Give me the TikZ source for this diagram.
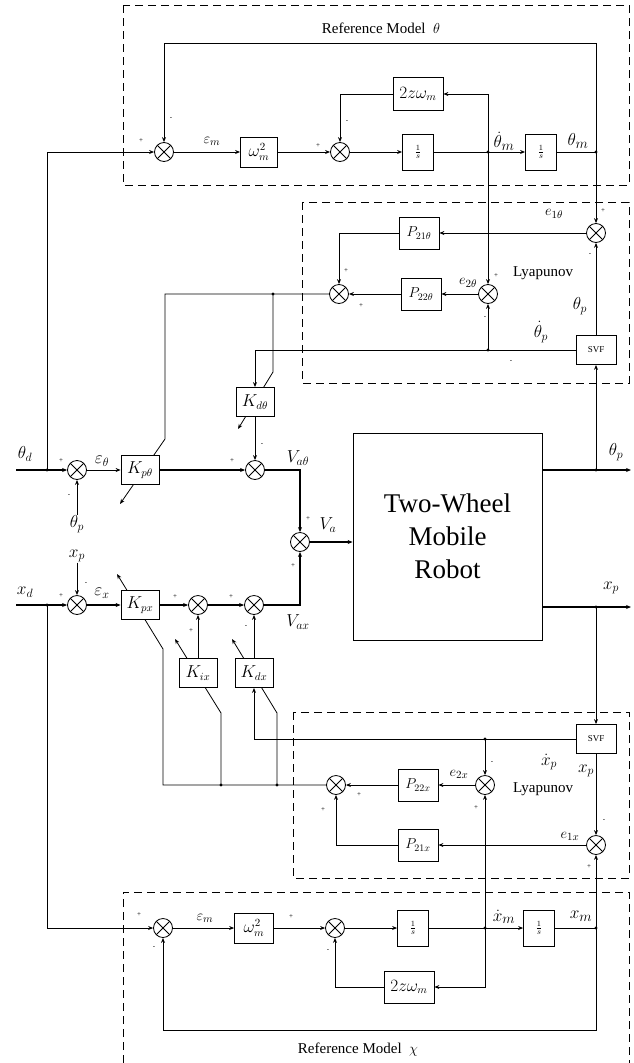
\documentclass[tikz,border=0pt]{standalone}
\usepackage{fontspec}
\setmainfont{Liberation Serif}
\usepackage{amsmath}
\usetikzlibrary{arrows.meta}
\tikzset{
  % thin wiring by default, small sharp tips
  every picture/.append style = {line width=0.8pt, >={Stealth[length=5pt, width=4pt]}},
  sig/.style     = {line width=1.5pt},
  dbox/.style    = {dash pattern=on 8pt off 5pt, line width=0.9pt},
  sumnode/.style = {circle, draw, fill=white, minimum size=19pt, inner sep=0pt,
                    path picture={\draw (path picture bounding box.north west) -- (path picture bounding box.south east)
                                       (path picture bounding box.north east) -- (path picture bounding box.south west);}},
  blk/.style     = {draw, fill=white, inner sep=1pt, minimum width=38pt, minimum height=29pt,
                    font=\fontsize{16}{18}\selectfont},
  pblk/.style    = {blk, minimum width=40pt, minimum height=32pt, font=\fontsize{14.5}{16}\selectfont},
  intblk/.style  = {blk, minimum width=31pt, minimum height=36pt, font=\fontsize{11}{13}\selectfont},
  svfblk/.style  = {blk, minimum width=40pt, minimum height=29pt, font=\fontsize{9}{11}\selectfont},
}

\begin{document}
\begin{tikzpicture}[x=1pt, y=-1pt,
    pm/.style={font=\fontsize{7}{8}\selectfont, inner sep=0pt},
    lbl/.style={font=\fontsize{15}{17}\selectfont, inner sep=0pt},
    mlbl/.style={font=\fontsize{17}{19}\selectfont, inner sep=0pt},
    blbl/.style={font=\fontsize{19}{21}\selectfont, inner sep=0pt},
    ttl/.style={font=\fontsize{15}{17}\selectfont, inner sep=0pt}]
  \useasboundingbox (0,0) rectangle (633,1063);

  % dashed groups
  \draw[dbox] (123,5) rectangle (629,185);
  \draw[dbox] (302,202) rectangle (629,383);
  \draw[dbox] (293,712) rectangle (629,878);
  \draw[dbox] (123,1063) -- (123,892) -- (629,892) -- (629,1063);

  % reference model theta
  \node[sumnode] (rsum1) at (164,152) {};
  \node[blk, minimum width=37pt, minimum height=30pt] (rw2) at (259,152) {$\omega_m^2$};
  \node[sumnode] (rsum2) at (340,152) {};
  \node[intblk] (rint1) at (418,152) {$\frac{1}{s}$};
  \coordinate (rjv) at (488,152);
  \node[intblk] (rint2) at (541,152) {$\frac{1}{s}$};
  \coordinate (rjp) at (596,152);
  \node[blk, minimum width=50pt, minimum height=33pt] (rdamp) at (418,94) {$2z\omega_m$};
  \coordinate (rtop) at (164,43);

  % lyapunov theta
  \node[sumnode] (lsum1) at (596,233) {};
  \node[pblk] (lp21) at (419,233) {$P_{21\theta}$};
  \node[sumnode] (lsum3) at (339,294) {};
  \node[pblk] (lp22) at (421,294) {$P_{22\theta}$};
  \node[sumnode] (lsum2) at (488,294) {};
  \node[svfblk] (lsvf) at (596,350) {SVF};
  \coordinate (ljd) at (488,350);
  \coordinate (lja) at (273,294);

  % lyapunov x
  \node[svfblk] (msvf) at (596,739) {SVF};
  \coordinate (mjd) at (485,739);
  \node[sumnode] (msum2) at (485,785) {};
  \node[pblk] (mp22) at (418,785) {$P_{22x}$};
  \node[sumnode] (msum3) at (336,785) {};
  \node[pblk] (mp21) at (418,845) {$P_{21x}$};
  \node[sumnode] (msum1) at (596,845) {};
  \coordinate (mja1) at (221,785);
  \coordinate (mja2) at (277,785);

  % adaptation arrows, drawn before the gains so the boxes cover them
  \draw[->] (lsum3.west) -| (165,439) -- (120,504);
  \draw[->] (lja) -- (273,372) -- (238,429);
  \draw[->] (msum3.west) -| (163,649) -- (117,574);
  \draw[->] (mja1) -- (221,713) -- (175,639);
  \draw[->] (mja2) -- (277,713) -- (232,639);

  % theta loop
  \coordinate (thdin) at (16,470);
  \coordinate (jthd) at (47,470);
  \node[sumnode] (tsum) at (77,470) {};
  \node[blk] (kpt) at (140,470) {$K_{p\theta}$};
  \node[blk] (kdt) at (255,402) {$K_{d\theta}$};
  \node[sumnode] (tva) at (255,470) {};
  \node[sumnode] (vasum) at (300,542) {};
  \node[draw, fill=white, minimum width=189pt, minimum height=207pt, align=center,
        font=\fontsize{27}{33}\selectfont] (robot) at (447.5,536.5) {Two-Wheel\\Mobile\\Robot};
  \coordinate (jthp) at (596,470);
  \coordinate (thpout) at (631,470);

  % x loop
  \coordinate (xdin) at (16,605);
  \coordinate (jxd) at (47,605);
  \node[sumnode] (xsum) at (77,605) {};
  \node[blk] (kpx) at (140,605) {$K_{px}$};
  \node[sumnode] (xsum2) at (198,605) {};
  \node[sumnode] (xva) at (254,605) {};
  \node[blk] (kix) at (198,673) {$K_{ix}$};
  \node[blk] (kdx) at (254,673) {$K_{dx}$};
  \coordinate (jxp) at (596,607);
  \coordinate (xpout) at (631,607);

  % reference model x
  \node[sumnode] (bsum1) at (163,928) {};
  \node[blk, minimum width=39pt, minimum height=30pt] (bw2) at (254,928) {$\omega_m^2$};
  \node[sumnode] (bsum2) at (335,928) {};
  \node[intblk] (bint1) at (413,928) {$\frac{1}{s}$};
  \coordinate (bjv) at (485,928);
  \node[intblk] (bint2) at (539,928) {$\frac{1}{s}$};
  \coordinate (bjp) at (596,928);
  \node[blk, minimum width=50pt, minimum height=32pt] (bdamp) at (409,987) {$2z\omega_m$};
  \coordinate (bbot) at (163,1030);

  % wiring, reference theta
  \draw[->] (jthd) |- (rsum1.west);
  \draw[->] (rsum1) -- (rw2);
  \draw[->] (rw2) -- (rsum2);
  \draw[->] (rsum2) -- (rint1);
  \draw (rint1) -- (rjv);
  \draw[->] (rjv) -- (rint2);
  \draw (rint2) -- (rjp);
  \draw[->] (rjp) |- (rtop) -- (rsum1.north);
  \draw[->] (rjv) |- (rdamp.east);
  \draw[->] (rdamp.west) -| (rsum2.north);
  \draw[->] (rjp) -- (lsum1.north);
  \draw[->] (rjv) -- (lsum2.north);

  % wiring, lyapunov theta
  \draw[->] (lsum1) -- (lp21);
  \draw[->] (lp21.west) -| (lsum3.north);
  \draw[->] (lsum2) -- (lp22);
  \draw[->] (lp22) -- (lsum3);
  \draw[->] (lsvf.north) -- (lsum1.south);
  \draw (lsvf.west) -- (ljd);
  \draw[->] (ljd) -- (lsum2.south);
  \draw[->] (ljd) -| (kdt.north);

  % wiring, theta loop
  \draw[sig,->] (thdin) -- (tsum.west);
  \draw[->] (tsum) -- (kpt);
  \draw[sig,->] (kpt) -- (tva);
  \draw[->] (kdt) -- (tva);
  \draw[sig,->] (tva.east) -| (vasum.north);
  \draw[sig,->] (vasum) -- (vasum -| robot.west);
  \draw[sig,->] (robot.east |- jthp) -- (thpout);
  \draw[->] (jthp) -- (lsvf.south);

  % wiring, x loop
  \draw[sig,->] (xdin) -- (xsum.west);
  \draw[sig,->] (xsum) -- (kpx);
  \draw[sig,->] (kpx) -- (xsum2);
  \draw[sig,->] (xsum2) -- (xva);
  \draw[sig,->] (xva.east) -| (vasum.south);
  \draw[->] (kix) -- (xsum2);
  \draw[->] (kdx) -- (xva);
  \draw[sig,->] (robot.east |- jxp) -- (xpout);
  \draw[->] (jxp) -- (msvf.north);

  % wiring, lyapunov x
  \draw (msvf.west) -- (mjd);
  \draw[->] (mjd) -| (kdx.south);
  \draw[->] (mjd) -- (msum2.north);
  \draw[->] (msvf.south) -- (msum1.north);
  \draw[->] (msum1) -- (mp21);
  \draw[->] (mp21.west) -| (msum3.south);
  \draw[->] (msum2) -- (mp22);
  \draw[->] (mp22) -- (msum3);

  % wiring, reference x
  \draw[->] (jxd) |- (bsum1.west);
  \draw[->] (bsum1) -- (bw2);
  \draw[->] (bw2) -- (bsum2);
  \draw[->] (bsum2) -- (bint1);
  \draw (bint1) -- (bjv);
  \draw[->] (bjv) -- (bint2);
  \draw (bint2) -- (bjp);
  \draw[->] (bjv) |- (bdamp.east);
  \draw[->] (bdamp.west) -| (bsum2.south);
  \draw[->] (bjp) |- (bbot) -- (bsum1.south);
  \draw[->] (bjv) -- (msum2.south);
  \draw[->] (bjp) -- (msum1.south);

  % branch points
  \foreach \j in {rjv,rjp,ljd,lja,jthd,jthp,jxd,jxp,mjd,mja1,mja2,bjv,bjp}
    \fill (\j) circle (1.7pt);

  % labels, reference theta
  \node[ttl] (ttlt) at (381,28) {Reference Model\enspace$\theta$};
  \node[pm] (pl1) at (141,141) {+};
  \node[pm] (mi1) at (171,119) {-};
  \node[lbl] (lemt) at (212,141) {$\varepsilon_m$};
  \node[pm] (pl2) at (318,146) {+};
  \node[pm] (mi2) at (347,122) {-};
  \node[blbl] (lthdm) at (504,141) {$\dot{\theta}_m$};
  \node[blbl] (lthm) at (578,141) {$\theta_m$};

  % labels, lyapunov theta
  \node[pm] (pl3) at (603,211) {+};
  \node[pm] (mi3) at (590,255) {-};
  \node[lbl] (le1t) at (554,214) {$e_{1\theta}$};
  \node[pm] (pl4) at (346,271) {+};
  \node[pm] (pl5) at (361,306) {+};
  \node[lbl] (le2t) at (468,283) {$e_{2\theta}$};
  \node[pm] (pl6) at (496,276) {+};
  \node[pm] (mi4) at (485,318) {-};
  \node[ttl] (lyt) at (543,273) {Lyapunov};
  \node[mlbl] (lthp) at (580,306) {$\theta_p$};
  \node[mlbl] (lthdp) at (541,332) {$\dot{\theta}_p$};
  \node[pm] (mi5) at (511,362) {-};

  % labels, theta loop
  \node[mlbl] (lthd) at (25,454) {$\theta_d$};
  \node[pm] (pl7) at (61,461) {+};
  \node[pm] (mi6) at (69,496) {-};
  \node[mlbl] (tlbp) at (77,524) {$\theta_p$};
  \draw[->] (tlbp.north) -- (tsum.south);
  \node[mlbl] (leth) at (102,461) {$\varepsilon_\theta$};
  \node[pm] (pl8) at (232,461) {+};
  \node[pm] (mi7) at (262,445) {-};
  \node[mlbl] (lvat) at (298,458) {$V_{a\theta}$};
  \node[pm] (pl9) at (308,519) {+};
  \node[mlbl] (lva) at (328,525) {$V_a$};
  \node[mlbl] (lthpo) at (616,452) {$\theta_p$};
  \node[mlbl] (lxpo) at (611,588) {$x_p$};

  % labels, x loop
  \node[mlbl] (xlbp) at (77,556) {$x_p$};
  \draw[->] (xlbp.south) -- (xsum.north);
  \node[pm] (mi8) at (86,584) {-};
  \node[pm] (pl10) at (61,596) {+};
  \node[mlbl] (lxd) at (25,592) {$x_d$};
  \node[mlbl] (lex) at (102,593) {$\varepsilon_x$};
  \node[pm] (pl11) at (175,597) {+};
  \node[pm] (pl12) at (231,597) {+};
  \node[pm] (pl13) at (293,566) {+};
  \node[mlbl] (lvax) at (298,622) {$V_{ax}$};
  \node[pm] (pl14) at (191,631) {+};
  \node[pm] (mi9) at (246,627) {-};

  % labels, lyapunov x
  \node[pm] (mi10) at (492,763) {-};
  \node[mlbl] (lxdp) at (549,762) {$\dot{x}_p$};
  \node[mlbl] (lxpl) at (586,771) {$x_p$};
  \node[pm] (mi11) at (604,821) {-};
  \node[pm] (pl15) at (589,867) {+};
  \node[lbl] (le1x) at (570,836) {$e_{1x}$};
  \node[pm] (pl16) at (476,808) {+};
  \node[lbl] (le2x) at (459,774) {$e_{2x}$};
  \node[ttl] (lyx) at (543,789) {Lyapunov};
  \node[pm] (pl17) at (323,810) {+};
  \node[pm] (pl18) at (359,795) {+};

  % labels, reference x
  \node[pm] (pl19) at (139,915) {+};
  \node[pm] (mi12) at (154,948) {-};
  \node[lbl] (lemx) at (205,918) {$\varepsilon_m$};
  \node[pm] (pl20) at (291,917) {+};
  \node[pm] (mi13) at (328,951) {-};
  \node[blbl] (lxdm) at (504,917) {$\dot{x}_m$};
  \node[blbl] (lxm) at (581,916) {$x_m$};
  \node[ttl] (ttlx) at (358,1050) {Reference Model\enspace$\chi$};
\end{tikzpicture}
\end{document}
